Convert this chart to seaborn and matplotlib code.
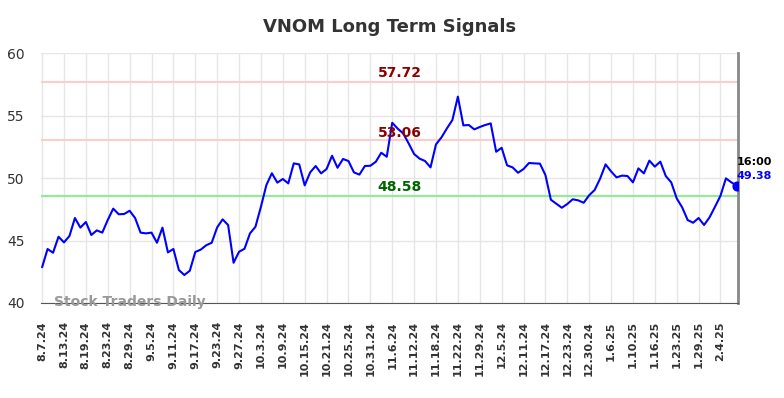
import matplotlib
matplotlib.use('Agg')
import matplotlib.pyplot as plt
import numpy as np
import pandas as pd
import seaborn as sns

# signal values, one per trading day (8.7.24 .. 2.7.25)
signal = [
    42.86, 44.32, 44.02, 45.30, 44.85, 45.36, 46.80, 46.03, 46.48, 45.44,
    45.81, 45.63, 46.64, 47.55, 47.10, 47.12, 47.38, 46.80, 45.63, 45.57,
    45.63, 44.82, 46.03, 44.05, 44.32, 42.64, 42.24, 42.58, 44.08, 44.27,
    44.62, 44.82, 46.05, 46.69, 46.24, 43.22, 44.10, 44.34, 45.57, 46.10,
    47.70, 49.44, 50.38, 49.63, 49.92, 49.57, 51.17, 51.09, 49.41, 50.45,
    50.96, 50.37, 50.72, 51.78, 50.82, 51.52, 51.36, 50.45, 50.27, 50.96,
    50.98, 51.30, 52.02, 51.70, 54.42, 53.95, 53.57, 52.77, 51.92, 51.55,
    51.36, 50.85, 52.69, 53.25, 53.97, 54.64, 56.51, 54.21, 54.24, 53.89,
    54.08, 54.24, 54.37, 52.10, 52.42, 51.01, 50.85, 50.42, 50.72, 51.20,
    51.17, 51.15, 50.24, 48.26, 47.94, 47.62, 47.92, 48.30, 48.21, 48.02,
    48.62, 49.04, 49.95, 51.09, 50.53, 50.05, 50.19, 50.16, 49.65, 50.77,
    50.37, 51.39, 50.91, 51.31, 50.16, 49.65, 48.37, 47.65, 46.64, 46.42,
    46.80, 46.24, 46.85, 47.70, 48.58, 49.97, 49.65, 49.38,
]

# one label every 4 trading days
tick_labels = [
    '8.7.24', '8.13.24', '8.19.24', '8.23.24', '8.29.24', '9.5.24', '9.11.24',
    '9.17.24', '9.23.24', '9.27.24', '10.3.24', '10.9.24', '10.15.24',
    '10.21.24', '10.25.24', '10.31.24', '11.6.24', '11.12.24', '11.18.24',
    '11.22.24', '11.29.24', '12.5.24', '12.11.24', '12.17.24', '12.23.24',
    '12.30.24', '1.6.25', '1.10.25', '1.16.25', '1.23.25', '1.29.25', '2.4.25',
]

upper_levels = [57.72, 53.06]
lower_level = 48.58
last_time = '16:00'

df = pd.DataFrame({'idx': np.arange(len(signal)), 'signal': signal})

sns.set_style('white')
plt.rcParams['font.family'] = ['DejaVu Sans']

fig = plt.figure(figsize=(7.84, 3.98), dpi=100)
ax = fig.add_axes([0.0523, 0.2387, 0.8890, 0.6281])

for lv in upper_levels:
    ax.axhline(lv, color='#ffcccc', lw=1.5, zorder=1)
ax.axhline(lower_level, color='#90ee90', lw=1.5, zorder=1)

sns.lineplot(data=df, x='idx', y='signal', color='#0000ff', lw=1.5, ax=ax, zorder=3)
ax.scatter([df['idx'].iloc[-1]], [signal[-1]], s=40, color='#0000ff', zorder=4)

ax.set_xlim(-0.2, len(signal) - 0.8)
ax.set_ylim(40, 60)
ax.set_yticks([40, 45, 50, 55, 60])
ax.set_xticks(np.arange(0, len(signal), 4)[:len(tick_labels)])
ax.set_xticklabels(tick_labels, rotation=90, fontsize=8, fontweight='bold', color='#333333')
ax.tick_params(axis='y', labelsize=10, labelcolor='#333333', length=0, pad=12)
ax.tick_params(axis='x', length=0, pad=13)
ax.grid(True, color='#e6e6e6', lw=1)
ax.set_xlabel('')
ax.set_ylabel('')

for s in ['top', 'left']:
    ax.spines[s].set_visible(False)
ax.spines['bottom'].set_color('#555555')
ax.spines['right'].set_color('#888888')
ax.spines['right'].set_linewidth(2)

txt_x = 65.4
ax.text(txt_x, upper_levels[0] + 0.1, f'{upper_levels[0]:.2f}', color='#8b0000',
        fontsize=10, fontweight='bold', ha='center', va='bottom', zorder=5)
ax.text(txt_x, upper_levels[1] - 0.05, f'{upper_levels[1]:.2f}', color='#8b0000',
        fontsize=10, fontweight='bold', ha='center', va='bottom', zorder=5)
ax.text(txt_x, lower_level + 0.15, f'{lower_level:.2f}', color='#006400',
        fontsize=10, fontweight='bold', ha='center', va='bottom', zorder=5)

n = len(signal) - 1
ax.annotate(last_time, (n, signal[-1]), xytext=(0, 17), textcoords='offset points',
            fontsize=8, fontweight='bold', color='black', ha='left', va='center')
ax.annotate(f'{signal[-1]:.2f}', (n, signal[-1]), xytext=(0, 7), textcoords='offset points',
            fontsize=8, fontweight='bold', color='#0000ff', ha='left', va='center')

ax.text(2.2, 40.05, 'Stock Traders Daily', fontsize=10, fontweight='bold',
        color='#999999', ha='left', va='center', zorder=5)

fig.suptitle('VNOM Long Term Signals', x=0.497, y=0.955, fontsize=13,
             fontweight='bold', color='#333333')

fig.savefig('out.png', dpi=100)
